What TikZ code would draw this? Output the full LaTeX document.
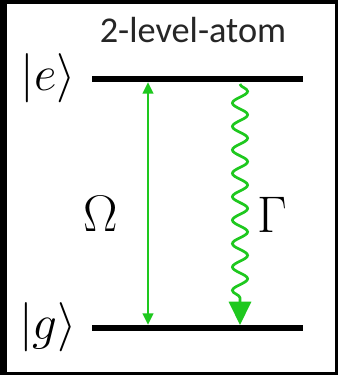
\RequirePackage{fix-cm}
\documentclass[tikz,border=0pt]{standalone}
\usepackage{fontspec}
\newfontfamily\titlefont{Carlito}
\usepackage{xcolor}
\usetikzlibrary{positioning,arrows.meta,decorations.pathmorphing}
\definecolor{lasergreen}{RGB}{30,200,30}

\begin{document}
\begin{tikzpicture}[
  x=0.03cm, y=-0.03cm,
  level/.style={line width=5pt},
  ket/.style={inner sep=0pt, font=\fontsize{42}{46}\selectfont},
  ratelabel/.style={inner sep=0pt, font=\fontsize{44}{48}\selectfont},
  rabi/.style={lasergreen, line width=2.3pt, {Triangle[width=9pt,length=10pt]}-{Triangle[width=9pt,length=10pt]}},
  decay/.style={lasergreen, line width=2.3pt, -{Triangle[width=19pt,length=20pt]}, decorate,
    decoration={snake, amplitude=6.5pt, segment length=20pt, post length=20pt}}
]
\useasboundingbox (0,0) rectangle (338,375);
% frame
\fill[black] (0,0) rectangle (338,375);
\fill[white] (7,4) rectangle (335,372);

\node[font=\titlefont\fontsize{31}{32}\selectfont, text=black!85] (title) at (193,30) {2-level-atom};

% levels
\coordinate (e-left) at (92,79);
\coordinate (e-right) at (303,79);
\coordinate (g-left) at (92,328);
\coordinate (g-right) at (303,328);
\draw[level] (e-left) -- (e-right);
\draw[level] (g-left) -- (g-right);

\node[ket] (e) at (48,78) {$|e\rangle$};
\node[ket] (g) at (48,327) {$|g\rangle$};

% transitions
\coordinate (rabi-top) at (148,82);
\coordinate (rabi-bot) at (148,325);
\coordinate (decay-top) at (240,84);
\coordinate (decay-bot) at (240,325);
\draw[rabi] (rabi-top) -- (rabi-bot);
\draw[decay] (decay-top) -- (decay-bot);

\node[ratelabel] (omega) at (101,214) {$\Omega$};
\node[ratelabel] (gamma) at (272,215) {$\Gamma$};
\end{tikzpicture}
\end{document}
